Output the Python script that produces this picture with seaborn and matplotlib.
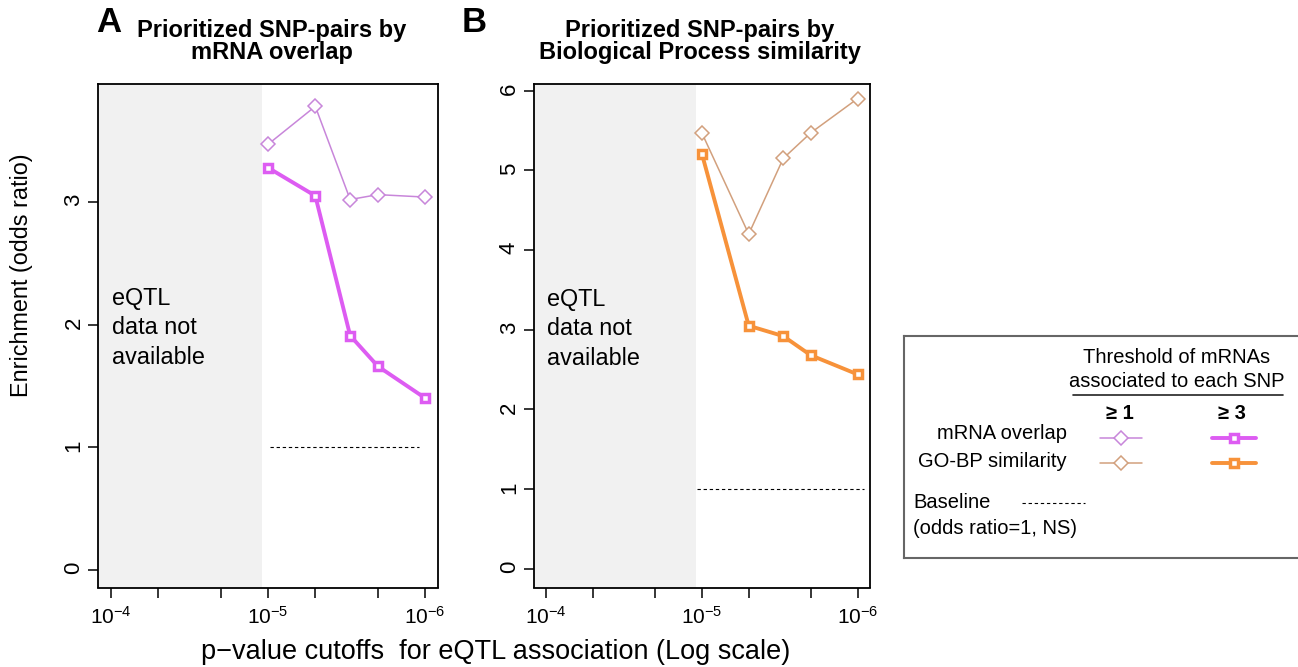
import matplotlib
matplotlib.use('Agg')
import seaborn as sns
import matplotlib.pyplot as plt
from matplotlib.ticker import FixedLocator, FixedFormatter, NullLocator

# p-value cutoffs for the eQTL association
pvals = [1e-5, 5e-6, 3e-6, 2e-6, 1e-6]

# A: SNP-pairs prioritized by mRNA overlap (odds ratio)
mrna_ge1 = [3.47, 3.78, 3.02, 3.06, 3.04]
mrna_ge3 = [3.28, 3.05, 1.91, 1.66, 1.40]

# B: SNP-pairs prioritized by GO biological process similarity
gobp_ge1 = [5.47, 4.20, 5.15, 5.47, 5.90]
gobp_ge3 = [5.21, 3.05, 2.92, 2.68, 2.44]

baseline = 1.0
no_data_until = 10**-4.96   # eQTL data missing for looser cutoffs

tick_pvals = [1e-4, 5e-5, 2e-5, 1e-5, 5e-6, 2e-6, 1e-6]
tick_labels = [r'$\mathregular{10^{-4}}$', '', '', r'$\mathregular{10^{-5}}$', '', '',
               r'$\mathregular{10^{-6}}$']

col_mrna1 = '#C886DA'
col_mrna3 = '#DD5CF2'
col_gobp1 = '#D2A07D'
col_gobp3 = '#F7923A'

sns.set_style('ticks')
plt.rcParams['font.family'] = ['Liberation Sans', 'DejaVu Sans']
plt.rcParams['mathtext.fontset'] = 'custom'
plt.rcParams['mathtext.rm'] = 'Liberation Sans'
plt.rcParams['mathtext.it'] = 'Liberation Sans:italic'
plt.rcParams['mathtext.bf'] = 'Liberation Sans:bold'
plt.rcParams['text.color'] = 'black'
plt.rcParams['axes.labelcolor'] = 'black'
plt.rcParams['xtick.color'] = 'black'
plt.rcParams['ytick.color'] = 'black'

W, H = 1298, 667
fig = plt.figure(figsize=(W / 100, H / 100), dpi=100)


def px(x, y):
    return x / W, 1 - y / H


# marker styles shared by the panels and the legend
thin = dict(lw=1.1, marker='D', ms=6.9, mfc='white', mew=1.1)
thick = dict(lw=2.8, marker='s', ms=5.2, mfc='white', mew=2.5)


def panel(rect, ge1, ge3, c1, c3, ylim, yticks, base_span, note_xy):
    ax = fig.add_axes(rect)
    ax.axvspan(10**-3.92, no_data_until, color='#F1F1F1', lw=0, zorder=0)
    ax.hlines(baseline, base_span[0], base_span[1], colors='black',
              linestyles=(0, (3, 2.5)), lw=0.8, zorder=2)
    sns.lineplot(x=pvals, y=ge1, ax=ax, color=c1, mec=c1, zorder=3, **thin)
    sns.lineplot(x=pvals, y=ge3, ax=ax, color=c3, mec=c3, zorder=4, **thick)
    ax.set_xscale('log')
    ax.set_xlim(10**-3.92, 10**-6.08)
    ax.xaxis.set_major_locator(FixedLocator(tick_pvals))
    ax.xaxis.set_major_formatter(FixedFormatter(tick_labels))
    ax.xaxis.set_minor_locator(NullLocator())
    ax.set_ylim(*ylim)
    ax.set_yticks(yticks)
    ax.set_yticklabels([str(v) for v in yticks])
    ax.tick_params(axis='x', length=7, width=1.1, pad=6, labelsize=15)
    ax.tick_params(axis='y', length=7, width=1.1, pad=3, labelsize=16, labelrotation=90)
    for s in ax.spines.values():
        s.set_color('black')
        s.set_linewidth(1.3)
    ax.set_xlabel('')
    ax.set_ylabel('')
    ax.text(note_xy[0], note_xy[1], 'eQTL\ndata not\navailable', transform=ax.transAxes,
            ha='left', va='top', fontsize=16.8, linespacing=1.36)
    return ax


bottom = 1 - 587.5 / H
height = (587.5 - 84.3) / H
axA = panel([98.3 / W, bottom, (437.7 - 98.3) / W, height], mrna_ge1, mrna_ge3,
            col_mrna1, col_mrna3, (-0.145, 3.96), [0, 1, 2, 3],
            (10**-5.01, 10**-5.96), (0.04, 0.598))
axB = panel([533.7 / W, bottom, (870 - 533.7) / W, height], gobp_ge1, gobp_ge3,
            col_gobp1, col_gobp3, (-0.235, 6.08), [0, 1, 2, 3, 4, 5, 6],
            (10**-4.97, 10**-6.04), (0.04, 0.596))

# panel letters and titles
fig.text(*px(109, 22.5), 'A', fontsize=25, weight='bold', ha='center', va='center')
fig.text(*px(474.5, 22.5), 'B', fontsize=25, weight='bold', ha='center', va='center')
fig.text(*px(272, 36.7), 'Prioritized SNP-pairs by', fontsize=17, weight='bold',
         ha='center', va='baseline')
fig.text(*px(272, 59.3), 'mRNA overlap', fontsize=17, weight='bold',
         ha='center', va='baseline')
fig.text(*px(700, 36.7), 'Prioritized SNP-pairs by', fontsize=17, weight='bold',
         ha='center', va='baseline')
fig.text(*px(700, 59.3), 'Biological Process similarity', fontsize=17, weight='bold',
         ha='center', va='baseline')

fig.text(*px(22, 275), 'Enrichment (odds ratio)', rotation=90, fontsize=16.8,
         ha='center', va='center')
fig.text(*px(496, 652), 'p\u2212value cutoffs  for eQTL association (Log scale)',
         fontsize=19.5, ha='center', va='center')

# legend box, drawn in pixel units
leg = fig.add_axes([904 / W, 1 - 557.7 / H, (W - 904) / W, (557.7 - 335.7) / H])
leg.set_xlim(904, W)
leg.set_ylim(557.7, 335.7)
leg.set_xticks([])
leg.set_yticks([])
leg.set_facecolor('white')
for name, s in leg.spines.items():
    s.set_color('#666666')
    s.set_linewidth(1.5)
leg.spines['right'].set_visible(False)

fs = 14.5
leg.text(1177, 363.3, 'Threshold of mRNAs', fontsize=fs, ha='center', va='baseline')
leg.text(1177, 387, 'associated to each SNP', fontsize=fs, ha='center', va='baseline')
leg.plot([1073, 1283], [395, 395], color='#222222', lw=1.2)
leg.text(1120, 419.3, '\u2265 1', fontsize=fs, weight='bold', ha='center', va='baseline')
leg.text(1232, 419.3, '\u2265 3', fontsize=fs, weight='bold', ha='center', va='baseline')
leg.text(1066.7, 439.3, 'mRNA overlap', fontsize=fs, ha='right', va='baseline')
leg.text(1066.7, 467.3, 'GO-BP similarity', fontsize=fs, ha='right', va='baseline')

for y, c1, c3 in [(437.7, col_mrna1, col_mrna3), (463.3, col_gobp1, col_gobp3)]:
    leg.plot([1100, 1141.7], [y, y], color=c1, lw=thin['lw'])
    leg.plot([1121], [y], ls='none', color=c1, mec=c1,
             **{k: v for k, v in thin.items() if k != 'lw'})
    leg.plot([1211.7, 1256], [y, y], color=c3, lw=thick['lw'])
    leg.plot([1234], [y], ls='none', color=c3, mec=c3,
             **{k: v for k, v in thick.items() if k != 'lw'})

leg.text(913.3, 508.3, 'Baseline', fontsize=fs, ha='left', va='baseline')
leg.text(913.3, 533.5, '(odds ratio=1, NS)', fontsize=fs, ha='left', va='baseline')
leg.plot([1021.7, 1085], [502.7, 502.7], color='black', lw=0.8, ls=(0, (3, 2.5)))

fig.savefig('out.png', dpi=100)
